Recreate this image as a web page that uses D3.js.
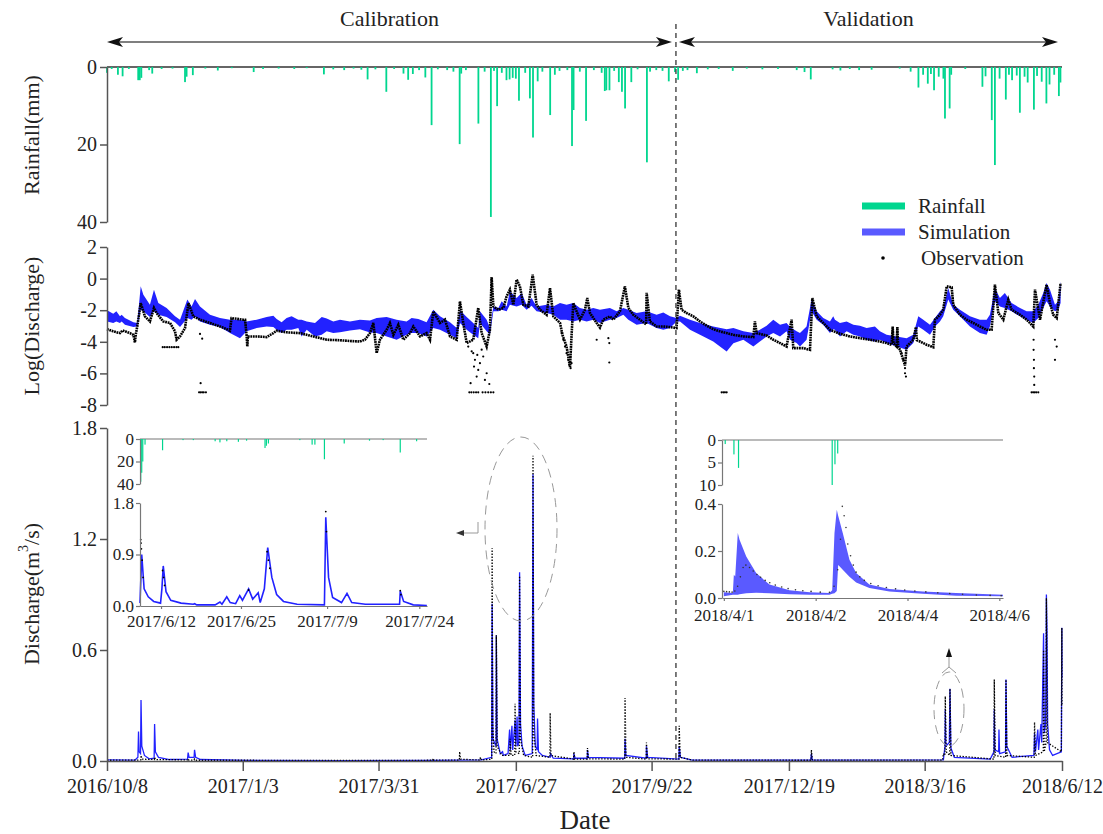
<!DOCTYPE html>
<html>
<head>
<meta charset="utf-8">
<script src="https://cdn.jsdelivr.net/npm/d3@7"></script>
<style>
body { margin: 0; background: #fff; }
svg text { font-family: "Liberation Serif", "DejaVu Serif", serif; fill: #222; }
.axis path, .axis line { stroke: #555; stroke-width: 1.5; }
.axis text { font-size: 20px; fill: #222; }
.inset .axis text { font-size: 17px; }
.inset .axis path, .inset .axis line { stroke: #777; stroke-width: 1.2; }
</style>
</head>
<body>
<svg id="chart" width="1103" height="834"></svg>
<script>
const startDate = new Date(2016, 9, 8);
const endDate = new Date(2018, 5, 12);
const splitDay = 364.6; // calibration / validation split

const xTickLabels = ["2016/10/8", "2017/1/3", "2017/3/31", "2017/6/27", "2017/9/22", "2017/12/19", "2018/3/16", "2018/6/12"];
const rainTicks = [0, 20, 40];
const logTicks = [-8, -6, -4, -2, 0, 2];
const dischargeTicks = [0, 0.6, 1.2, 1.8];

// [day since 2016/10/8, mm]
const rainfall = [
  [0,1.5],[3,0.5],[7,2],[10,2.4],[14,0.5],[20,3.4],[21,3.4],[22,2.8],[27,0.8],[29,1.7],[35,0.5],[42,0.4],
  [50,3.9],[51,2.5],[55,2.1],[63,0.4],[71,0.9],[80,0.3],[94,1.3],[100,0.5],[110,0.4],[120,0.5],[128,0.3],
  [139,1.9],[145,0.6],[152,0.8],[158,0.4],[163,0.7],[167,3.2],[172,0.6],[179,6.4],[184,0.5],[190,1.7],
  [193,3.3],[196,1.8],[200,0.8],[204,2.7],[208,15],[212,0.6],[218,0.8],[222,1.2],[226,19.9],[227,1.7],
  [230,0.8],[238,14.6],[242,1.2],[246,38.7],[248,1.0],[250,10.1],[253,1.5],[256,3.4],[258,3.2],[260,2.8],
  [262,3.0],[264,8.7],[268,1.5],[271,8.1],[273,18.2],[276,3.7],[279,1.2],[284,12.4],[287,2.0],[290,1.0],
  [295,0.8],[298,20.4],[299,11.1],[303,1.2],[307,13.9],[312,0.8],[317,1.5],[319,6.2],[320,6.0],[322,6.0],
  [325,1.0],[328,3.9],[330,6.4],[332,10.7],[336,3.9],[340,0.6],[346,24.6],[348,1.2],[352,0.8],[356,1.0],
  [360,3.7],[364,1.3],[366,3.3],[369,1.0],[372,0.8],[378,1.6],[385,0.6],[392,0.5],[401,1.0],[410,0.4],
  [420,0.6],[430,0.5],[442,0.8],[447,1.3],[451,3.2],[465,0.6],[470,0.9],[476,0.5],[482,0.8],[490,0.7],
  [508,0.4],[515,1.2],[520,5.3],[523,2.0],[526,4.3],[528,1.8],[530,6.0],[533,2.5],[536,3.0],[537,13.3],
  [540,10.7],[541,2.0],[550,0.5],[561,5.1],[563,2.4],[567,13.7],[569,25.3],[572,3.0],[576,8.4],[578,2.0],
  [580,3.4],[583,2.2],[585,11.8],[588,2.5],[590,4.0],[594,11.0],[596,2.3],[599,3.8],[602,9.4],[604,4.5],
  [607,2.0],[610,7.5],[611,4.0]
];

// [day, lower, upper] simulated log discharge band
const logSimBand = [
  [0,-2.71,-2.01],[4,-2.81,-2.22],[6,-2.71,-2.07],[8.3,-2.81,-2.39],[9.4,-2.71,-2.29],[11.5,-2.92,-2.50],
  [16.9,-3.07,-2.77],[19.4,-3.03,-2.81],[21.6,-1.97,-0.49],[23.3,-2.07,-1.02],[27.5,-2.43,-1.65],
  [30.1,-2.07,-0.70],[32.9,-2.29,-1.55],[38.2,-2.43,-1.86],[43.6,-2.77,-2.39],[46.8,-3.07,-2.60],
  [51.5,-2.50,-1.33],[54.2,-2.60,-1.76],[56.4,-2.39,-1.29],[59.6,-2.71,-1.76],[66,-2.92,-2.29],
  [72.4,-3.07,-2.50],[78.8,-3.45,-2.60],[85.2,-3.77,-2.60],[89.5,-3.34,-2.71],[95.9,-3.13,-2.60],
  [102.3,-3.03,-2.43],[106.6,-3.07,-2.35],[108.7,-3.24,-2.56],[111.9,-3.45,-2.77],[115.1,-3.24,-2.50],
  [118.3,-3.24,-2.39],[122.6,-3.13,-2.60],[124.7,-3.66,-2.60],[128,-3.24,-2.71],[133.3,-3.66,-2.81],
  [137.6,-3.56,-2.43],[140.8,-3.34,-2.52],[145,-3.45,-2.71],[149.3,-3.40,-2.60],[155.7,-3.28,-2.71],
  [162.1,-3.20,-2.60],[168.5,-3.41,-2.65],[172.8,-3.45,-2.50],[179.2,-3.66,-2.43],[185.6,-3.87,-2.60],
  [192,-3.56,-2.71],[195.2,-3.45,-2.50],[199.5,-3.45,-2.56],[204.8,-3.66,-2.77],[209.1,-3.13,-1.97],
  [213.4,-3.24,-2.39],[219.8,-3.56,-2.77],[224.1,-3.77,-3.13],[226.2,-2.81,-2.01],[230.5,-3.24,-2.43],
  [234.7,-3.56,-2.81],[237.9,-3.77,-3.13],[239,-2.81,-2.07],[243.3,-3.34,-2.60],[245.4,-3.56,-3.13],
  [247.6,-2.07,-1.76],[250.8,-2.07,-1.86],[252.9,-1.97,-1.44],[256.1,-2.07,-1.76],[258.2,-1.65,-0.80],
  [262.5,-1.76,-1.23],[265.7,-1.65,-0.91],[268.9,-1.97,-1.65],[272.1,-1.72,-1.23],[275.3,-2.07,-1.76],
  [281.7,-2.18,-1.65],[286,-2.29,-1.76],[290.3,-2.60,-1.55],[294.5,-2.60,-1.65],[298.8,-2.71,-1.55],
  [303.1,-2.60,-1.86],[307.4,-2.71,-1.97],[311.6,-2.60,-1.86],[315.9,-2.81,-1.97],[322.3,-2.60,-1.86],
  [326.6,-2.50,-2.07],[330.9,-2.29,-1.86],[334.1,-2.60,-1.97],[339.4,-2.92,-2.18],[345.8,-2.81,-2.07],
  [352.2,-3.13,-2.29],[356.5,-3.24,-2.14],[360.8,-3.13,-2.39],[365,-2.71,-2.50],[367.2,-2.71,-2.35],
  [373.6,-3.24,-2.60],[380,-3.56,-2.81],[388.5,-3.98,-3.03],[397.1,-4.62,-3.20],[401.4,-4.09,-3.13],
  [407.8,-3.87,-3.34],[414.2,-4.30,-3.45],[418.4,-3.98,-3.24],[422.7,-3.66,-2.98],[427,-3.45,-2.60],
  [431.3,-3.66,-2.92],[435.5,-3.34,-2.81],[437.7,-3.87,-3.07],[441.9,-4.08,-3.34],[444.1,-4.30,-3.45],
  [448.3,-3.87,-3.03],[451.5,-2.07,-1.33],[454.8,-2.60,-2.07],[459,-2.92,-2.50],[463.3,-3.45,-2.71],
  [465.4,-3.20,-2.39],[466.5,-3.24,-2.60],[469.7,-3.66,-2.81],[474,-3.34,-2.71],[478.3,-3.56,-2.92],
  [482.5,-3.66,-2.98],[486.8,-3.87,-3.13],[492.1,-3.98,-3.03],[495.3,-3.87,-3.34],[499.6,-4.08,-3.56],
  [506,-4.30,-3.66],[512.4,-4.51,-3.77],[516.7,-4.08,-3.56],[519.9,-3.03,-2.39],[523.1,-3.24,-2.60],
  [527.4,-3.56,-2.92],[530.6,-3.03,-2.50],[533.8,-2.71,-2.07],[535.9,-2.39,-1.86],[539.1,-1.33,-0.60],
  [542.3,-1.97,-1.65],[546.6,-2.39,-1.97],[553,-3.03,-2.39],[559.4,-3.45,-2.60],[563.7,-3.56,-2.60],
  [565.8,-3.03,-2.29],[569,-1.44,-0.60],[572.2,-1.76,-1.23],[575.4,-1.86,-0.91],[579.7,-2.07,-1.55],
  [585.1,-2.39,-1.86],[589.3,-2.60,-2.07],[593.6,-2.81,-2.07],[596.8,-2.50,-1.65],[600,-1.86,-0.91],
  [602.1,-1.44,-0.28],[604.3,-1.76,-0.70],[607.5,-2.07,-1.65],[609.6,-1.97,-1.44],[611.1,-1.55,-0.17]
];

// [day, log discharge] observed
const logObs = [
  [0,-3.20],[4,-3.34],[8.3,-3.45],[10,-3.28],[14.7,-3.45],[16.9,-3.56],[17.9,-4.04],[18.5,-3.5],[19.4,-3.03],
  [21.6,-1.55],[24.3,-2.39],[27.5,-2.71],[30.1,-1.86],[31.8,-2.18],[36,-2.71],[40.4,-2.81],[43.6,-3.34],
  [44.6,-3.87],[46.8,-3.66],[50,-3.13],[52.2,-1.55],[55.3,-2.39],[59.6,-2.60],[66,-2.81],[72.4,-3.03],
  [76.7,-3.20],[78.8,-3.3],[79.8,-2.50],[87.3,-2.60],[88.5,-2.60],[89.5,-3.66],[89.9,-4.30],[90.3,-3.66],
  [95.9,-3.66],[102.3,-3.70],[106.6,-3.45],[108.7,-3.30],[115.1,-3.40],[123.6,-3.45],[132.2,-3.66],
  [140.8,-3.87],[149.3,-3.90],[155.7,-3.95],[162.1,-3.98],[165.3,-3.87],[168.5,-3.45],[170.7,-2.81],
  [172.8,-4.72],[174.9,-3.87],[179.2,-3.24],[181.3,-2.81],[183.5,-3.56],[186.7,-2.92],[189.9,-3.87],
  [194.2,-3.45],[196.3,-3.03],[200.6,-3.66],[204.8,-3.45],[207,-3.87],[209.1,-2.07],[213.4,-2.81],
  [216.6,-2.60],[219.8,-3.66],[224.1,-3.87],[226.2,-1.44],[228.3,-2.81],[230.5,-4.08],[234.7,-3.87],
  [237.9,-1.86],[240.1,-3.45],[243.3,-4.30],[245.4,-3.24],[246.5,0.10],[247.6,-1.76],[250.8,-1.97],
  [254,-1.86],[256.1,-1.12],[258.2,-0.70],[260.4,-1.65],[262.5,-0.06],[264.6,-0.49],[266.8,-1.65],
  [270,-1.76],[272.8,0.25],[275.3,-1.65],[277.5,-1.97],[281.7,-2.29],[283.9,-0.60],[286,-2.39],
  [290.3,-2.81],[292,-3.6],[294.5,-4.3],[296.7,-5.6],[297.5,-4.0],[298.8,-1.55],[303.1,-2.60],
  [306.3,-1.97],[307.8,-1.23],[309.5,-2.18],[313.8,-2.81],[315.9,-3.1],[318,-2.60],[322.3,-2.39],
  [324.5,-2.60],[328.7,-2.07],[331.9,-0.49],[334.1,-1.86],[337.3,-2.29],[341.5,-2.60],[345.5,-2.9],
  [345.8,-0.90],[347.9,-2.71],[352.2,-3.03],[356.5,-3.03],[360.8,-3.07],[365,-3.13],[366.5,-0.70],
  [368.2,-1.97],[371.5,-2.18],[375.7,-2.39],[380,-2.71],[384.3,-2.98],[388.5,-3.20],[392.8,-3.34],
  [397.1,-3.45],[401.4,-3.56],[407.8,-3.66],[414.2,-3.70],[415.2,-2.71],[416.3,-3.45],[418.4,-3.50],
  [422.7,-3.6],[427,-3.87],[431.3,-4.08],[435.5,-4.30],[438.7,-2.60],[439.8,-4.4],[443,-4.40],
  [446.2,-4.40],[450.5,-4.51],[452,-1.23],[454.8,-2.39],[459,-2.81],[463.3,-3.24],[469.7,-3.49],
  [476.1,-3.66],[482.5,-3.77],[488.9,-3.87],[495.3,-3.98],[499.6,-4.08],[502.8,-4.19],[503.5,-3.03],
  [504,-4.1],[506,-4.30],[506.5,-3.07],[507,-4.3],[508.2,-4.51],[511.4,-5.5],[512.4,-4.30],[516.7,-3.87],
  [518.4,-3.07],[519,-3.9],[521,-3.98],[525.3,-4.19],[529.5,-4.34],[530.6,-2.60],[533.8,-2.29],
  [535.9,-1.97],[538.1,-0.49],[541.3,-0.55],[542.3,-1.65],[546.6,-2.29],[550.9,-2.60],[555.2,-2.81],
  [559.4,-3.03],[563.7,-3.24],[566.9,-3.24],[569,-0.38],[571.2,-2.18],[574.4,-2.60],[577.6,-1.33],
  [579.7,-1.97],[585.1,-2.29],[589.3,-2.60],[593.6,-3.03],[594.7,-0.70],[597.9,-2.60],[602.1,-0.38],
  [604.3,-1.55],[606.4,-2.29],[608.6,-2.50],[611.1,-0.28]
];

const logObsScatter = [
  [35.7,-4.34],[37,-4.34],[38.5,-4.34],[40,-4.34],[41.5,-4.34],[43,-4.34],[44.5,-4.34],[45.7,-4.34],
  [59.6,-3.5],[61,-3.8],[60,-6.62],[59,-7.2],[60,-7.2],[61,-7.2],[62,-7.2],[63.4,-7.2],
  [231.5,-4.3],[233,-6.62],[233.7,-4.6],[234.7,-4.72],[235.2,-5.57],[235.8,-5.14],[236.9,-6.2],
  [237.3,-4.83],[237.9,-5.78],[239,-5.35],[240.1,-4.5],[241.1,-4.93],[242.2,-6.41],[243.3,-5.99],[245,-6.67],
  [232.2,-7.2],[233.5,-7.2],[235,-7.2],[236.5,-7.2],[237.9,-7.2],[240.7,-7.2],[242.5,-7.2],[244.3,-7.2],
  [246,-7.2],[247.6,-7.2],
  [291.3,-3.45],[292.4,-3.87],[293.5,-4.3],[294.5,-4.72],[295.6,-5.14],[296.3,-5.46],[297.1,-5.67],[297.7,-5.35],
  [313.8,-3.87],[321.3,-3.77],[321.9,-4.08],[321.9,-5.31],[393.9,-7.2],[395,-7.2],[396,-7.2],[397.1,-7.2],
  [509.2,-4.72],[510.3,-5.14],[511.4,-5.67],[511.4,-5.99],[512,-6.2],
  [593.8,-3.87],[593.8,-4.51],[594,-5.14],[594,-5.67],[594.2,-6.2],[594.2,-6.73],[592.5,-7.2],[593.5,-7.2],
  [594.5,-7.2],[595.5,-7.2],[596.8,-7.2],[607.5,-3.87],[608.6,-4.3],[607.5,-5.14]
];

// [day, m3/s]
const simDischarge = [
  [0,0.006],[18,0.005],[19.8,0.02],[20.2,0.16],[20.6,0.05],[21.5,0.04],[21.8,0.33],[22.3,0.08],[24,0.03],
  [27,0.012],[30.2,0.015],[30.5,0.2],[31,0.05],[33,0.02],[40,0.008],[51.6,0.01],[52,0.045],[52.6,0.02],
  [55.8,0.02],[56.1,0.06],[56.8,0.02],[60,0.008],[90,0.003],[150,0.002],[208,0.003],[226,0.005],[240,0.006],
  [246.5,0.02],[246.8,0.85],[247.3,0.12],[249.3,0.08],[249.5,0.68],[250,0.12],[252,0.04],[253.5,0.05],
  [254,0.03],[257,0.04],[258,0.17],[258.5,0.06],[259.5,0.19],[260,0.06],[261.5,0.22],[262,0.08],
  [262.8,0.24],[263.2,0.08],[264,0.1],[264.4,1.02],[265,0.2],[266,0.08],[268,0.03],[272.5,0.04],
  [273,1.55],[273.5,0.3],[274.5,0.08],[275.7,0.06],[275.9,0.23],[276.5,0.05],[279,0.03],[284,0.02],
  [284.2,0.04],[286,0.015],[299,0.012],[299.2,0.04],[300,0.015],[307.8,0.015],[307.9,0.06],[308.5,0.02],
  [331.8,0.015],[332,0.12],[332.5,0.03],[345.6,0.015],[345.7,0.08],[346.5,0.02],[366.5,0.01],[366.7,0.08],
  [367.5,0.02],[375,0.005],[451,0.005],[451.4,0.04],[452,0.005],[536,0.006],[537,0.08],[537.2,0.28],
  [537.6,0.08],[539.8,0.1],[540.2,0.39],[540.8,0.07],[543,0.02],[566,0.01],[568.4,0.05],[568.6,0.28],
  [569,0.06],[571.4,0.05],[571.6,0.17],[572,0.04],[575.8,0.05],[576.1,0.44],[576.6,0.08],[580,0.02],
  [594,0.03],[594.4,0.15],[595,0.05],[596.5,0.17],[597,0.06],[598.5,0.2],[599,0.1],[600.2,0.69],
  [600.6,0.15],[601.5,0.2],[602,0.9],[602.4,0.7],[602.8,0.2],[604,0.06],[606,0.03],[611.6,0.05],
  [611.9,0.72],[612,0.45]
];

const obsDischarge = [
  [0,0.004],[20,0.005],[21.6,0.006],[21.8,0.03],[22.5,0.01],[30.3,0.008],[30.5,0.02],[31,0.008],
  [51.8,0.006],[52,0.012],[52.5,0.005],[55.8,0.005],[56,0.01],[56.5,0.004],[90,0.004],[150,0.003],
  [208.8,0.004],[209,0.014],[209.5,0.004],[225.8,0.005],[226,0.05],[226.5,0.01],[239,0.005],[239.3,0.02],
  [240,0.005],[246.6,0.01],[246.8,1.15],[247.2,0.2],[248,0.05],[249.3,0.04],[249.5,0.68],[250,0.08],
  [253,0.03],[258.1,0.03],[258.3,0.12],[259,0.03],[261.3,0.03],[261.5,0.31],[262,0.05],[264.2,0.04],
  [264.4,1.0],[265,0.12],[267,0.03],[272.8,0.02],[273,1.65],[273.5,0.15],[275,0.03],[283.8,0.02],
  [284,0.26],[284.5,0.03],[299,0.01],[299.2,0.05],[299.8,0.01],[307.7,0.01],[307.9,0.07],[308.5,0.012],
  [331.8,0.01],[332,0.34],[332.6,0.02],[345.5,0.01],[345.7,0.1],[346.3,0.012],[366.5,0.01],[366.7,0.19],
  [367.3,0.02],[375,0.005],[451.2,0.004],[451.4,0.06],[452,0.005],[535.5,0.005],[536,0.04],[537,0.03],
  [537.2,0.35],[537.8,0.05],[540,0.03],[540.2,0.39],[540.8,0.03],[568.4,0.01],[568.6,0.44],[569.2,0.03],
  [575.9,0.02],[576.1,0.44],[576.7,0.03],[594.2,0.02],[594.4,0.21],[595,0.03],[600,0.05],[600.2,0.6],
  [600.6,0.05],[601.8,0.1],[602,0.88],[602.6,0.1],[611.6,0.05],[611.9,0.72],[612,0.3]
];

// left inset: days since 2017/6/12
const leftInsetDomain = [-3.42, 43.25];
const leftInsetTickLabels = ["2017/6/12", "2017/6/25", "2017/7/9", "2017/7/24"];
const leftInsetRain = [
  [-3.30,38],[-3.14,30],[-2.97,20],[-2.60,5],[0.25,10],[3.58,1],[5.25,1],[8.80,2],[9.58,3],[10.69,2],
  [12.58,2.5],[13.91,1.5],[16.91,8],[17.13,6],[17.46,4],[22.57,1],[24.57,5],[25.02,5],[26.57,18],
  [29.79,4],[33.9,1.5],[36.12,1],[38.9,12],[41.56,2]
];
const leftInsetSim = [
  [-3.42,0.05],[-3.14,0.9],[-2.75,0.3],[-2.08,0.16],[-1.19,0.08],[-0.08,0.05],[0.14,0.3],[0.36,0.7],
  [0.81,0.25],[1.58,0.1],[3.25,0.05],[5.25,0.03],[5.47,0.04],[5.80,0.02],[8.80,0.02],[9.58,0.07],
  [9.91,0.03],[10.69,0.16],[11.25,0.06],[12.13,0.04],[12.80,0.18],[13.24,0.1],[14.24,0.30],[14.91,0.12],
  [15.80,0.23],[16.13,0.06],[16.80,0.3],[17.35,1.02],[18.02,0.5],[18.80,0.2],[19.91,0.08],[22.13,0.03],
  [26.57,0.02],[26.79,1.55],[27.24,0.5],[27.90,0.15],[29.35,0.06],[30.24,0.22],[31.01,0.06],[33.23,0.03],
  [38.79,0.03],[38.90,0.26],[39.45,0.08],[41.01,0.02],[43.23,0.01]
];
const leftInsetObs = [
  [-3.30,1.16],[-3.25,1.1],[-3.19,1.0],[-3.08,0.8],[-2.92,0.5],[0.25,0.62],[0.42,0.5],[0.58,0.36],
  [14.24,0.28],[17.24,0.95],[17.46,0.8],[17.69,0.66],[26.79,1.65],[26.90,1.3],[38.9,0.27],[39.01,0.2]
];

// right inset: x in tick units
const rightInsetTickLabels = ["2018/4/1", "2018/4/2", "2018/4/4", "2018/4/6"];
const rightInsetRain = [[0.015,0.9],[0.11,3.2],[0.16,6.2],[1.18,10],[1.21,5.4],[1.24,3]];
const rightInsetSimBand = [
  [0,0.007,0.024],[0.098,0.014,0.021],[0.109,0.014,0.099],[0.124,0.014,0.092],[0.152,0.014,0.277],
  [0.171,0.016,0.248],[0.244,0.02,0.177],[0.352,0.022,0.106],[0.497,0.02,0.057],[0.715,0.016,0.033],
  [0.933,0.014,0.024],[1.15,0.014,0.021],[1.18,0.018,0.033],[1.205,0.02,0.277],[1.23,0.03,0.376],
  [1.245,0.14,0.35],[1.259,0.135,0.33],[1.295,0.12,0.277],[1.368,0.09,0.163],[1.441,0.066,0.106],
  [1.585,0.043,0.057],[1.803,0.028,0.038],[2.166,0.018,0.028],[2.529,0.01,0.021],[3.04,0.007,0.014]
];
const rightInsetObs = [
  [0,0.028],[0.03,0.027],[0.06,0.026],[0.09,0.025],[0.12,0.03],[0.15,0.05],[0.18,0.09],[0.21,0.13],
  [0.24,0.14],[0.28,0.13],[0.32,0.115],[0.36,0.1],[0.4,0.088],[0.45,0.075],[0.5,0.065],[0.56,0.055],
  [0.63,0.047],[0.7,0.04],[0.78,0.035],[0.86,0.031],[0.95,0.028],[1.05,0.025],[1.15,0.024],[1.2,0.05],
  [1.24,0.12],[1.27,0.25],[1.29,0.39],[1.31,0.35],[1.33,0.3],[1.35,0.23],[1.38,0.18],[1.41,0.14],
  [1.44,0.11],[1.48,0.09],[1.53,0.075],[1.6,0.062],[1.68,0.052],[1.77,0.045],[1.87,0.039],[1.97,0.034],
  [2.08,0.03],[2.2,0.026],[2.33,0.022],[2.46,0.019],[2.6,0.016],[2.75,0.013],[2.9,0.011],[3.02,0.01]
];

const legendItems = ["Rainfall", "Simulation", "Observation"];

const rainColor = "#00d68f";
const simColor = "#2222ff";
const simLight = "#5a5aff";

const svg = d3.select("#chart");
const parseTick = d3.timeParse("%Y/%m/%d");
const dayToDate = (base, d) => new Date(base.getTime() + d * 864e5);

const x = d3.scaleTime().domain([startDate, endDate]).range([107, 1062]);
const xd = d => x(dayToDate(startDate, d));
const yRain = d3.scaleLinear().domain([0, 40]).range([67, 222]);
const yLog = d3.scaleLinear().domain([-8, 2]).range([405, 247]);
const yQ = d3.scaleLinear().domain([0, 1.8]).range([761, 428]);

// Rainfall panel
svg.append("line").attr("x1", 107).attr("x2", 1062).attr("y1", 67).attr("y2", 67)
  .attr("stroke", "#666").attr("stroke-width", 2);
svg.append("g").selectAll("rect").data(rainfall).enter().append("rect")
  .attr("x", d => xd(d[0]) - 0.9).attr("width", 1.8)
  .attr("y", yRain(0)).attr("height", d => yRain(d[1]) - yRain(0))
  .attr("fill", rainColor);
svg.append("g").attr("class", "axis").attr("transform", "translate(107,0)")
  .call(d3.axisLeft(yRain).tickValues(rainTicks).tickSize(7).tickSizeOuter(0));

// Log discharge panel
svg.append("path").datum(logSimBand)
  .attr("d", d3.area().x(d => xd(d[0])).y0(d => yLog(d[1])).y1(d => yLog(d[2])))
  .attr("fill", simColor);
svg.append("path").datum(logObs)
  .attr("d", d3.line().x(d => xd(d[0])).y(d => yLog(d[1])))
  .attr("fill", "none").attr("stroke", "#000").attr("stroke-width", 2.6)
  .attr("stroke-dasharray", "1.8 0.7");
svg.append("g").selectAll("circle").data(logObsScatter).enter().append("circle")
  .attr("cx", d => xd(d[0])).attr("cy", d => yLog(d[1])).attr("r", 1.1).attr("fill", "#000");
svg.append("g").attr("class", "axis").attr("transform", "translate(107,0)")
  .call(d3.axisLeft(yLog).tickValues(logTicks).tickFormat(d => String(d)).tickSize(7).tickSizeOuter(0));

// Discharge panel
svg.append("path").datum(simDischarge)
  .attr("d", d3.line().x(d => xd(d[0])).y(d => yQ(d[1])))
  .attr("fill", "none").attr("stroke", simColor).attr("stroke-width", 1.3);
svg.append("path").datum(obsDischarge)
  .attr("d", d3.line().x(d => xd(d[0])).y(d => yQ(d[1])))
  .attr("fill", "none").attr("stroke", "#000").attr("stroke-width", 1.3)
  .attr("stroke-dasharray", "1.4 1.6");
svg.append("g").attr("class", "axis").attr("transform", "translate(107,0)")
  .call(d3.axisLeft(yQ).tickValues(dischargeTicks).tickFormat(d3.format(".1f")).tickSize(7).tickSizeOuter(0));
svg.append("g").attr("class", "axis").attr("transform", "translate(0,761)")
  .call(d3.axisBottom(x).tickValues(xTickLabels.map(parseTick))
    .tickFormat(d3.timeFormat("%Y/%-m/%-d")).tickSize(10).tickSizeOuter(0).tickPadding(8));

// Split line and period arrows
const splitX = xd(splitDay);
svg.append("line").attr("x1", splitX).attr("x2", splitX).attr("y1", 24).attr("y2", 761)
  .attr("stroke", "#444").attr("stroke-width", 1.4).attr("stroke-dasharray", "5 4");

function arrowHead(g, tipX, y, dir) {
  g.append("path")
    .attr("d", `M${tipX},${y} L${tipX + dir * 16},${y - 5} L${tipX + dir * 12},${y} L${tipX + dir * 16},${y + 5} Z`)
    .attr("fill", "#111");
}
const arrows = svg.append("g");
[[107, splitX - 4, "Calibration"], [splitX + 3, 1058, "Validation"]].forEach(p => {
  arrows.append("line").attr("x1", p[0] + 4).attr("x2", p[1] - 4).attr("y1", 42).attr("y2", 42)
    .attr("stroke", "#555").attr("stroke-width", 1.4);
  arrowHead(arrows, p[0], 42, 1);
  arrowHead(arrows, p[1], 42, -1);
  arrows.append("text").attr("x", (p[0] + p[1]) / 2).attr("y", 26).attr("text-anchor", "middle")
    .attr("font-size", 22).text(p[2]);
});

// Axis titles
const titles = [
  {text: "Rainfall(mm)", y: 135},
  {text: "Log(Discharge)", y: 326},
  {text: "Discharge(m", y: 594, sup: true}
];
titles.forEach(t => {
  const tx = svg.append("text").attr("transform", `translate(31,${t.y}) rotate(-90)`)
    .attr("text-anchor", "middle").attr("dominant-baseline", "central").attr("font-size", 22);
  tx.append("tspan").text(t.text);
  if (t.sup) {
    tx.append("tspan").attr("font-size", 14).attr("dy", -8).text("3");
    tx.append("tspan").attr("dy", 8).text("/s)");
  }
});
svg.append("text").attr("x", 585).attr("y", 829).attr("text-anchor", "middle")
  .attr("font-size", 27).text("Date");

// Legend
const legend = svg.append("g");
legendItems.forEach((name, i) => {
  const ly = 206 + i * 26;
  if (i < 2) {
    legend.append("line").attr("x1", 862).attr("x2", 905).attr("y1", ly).attr("y2", ly)
      .attr("stroke", i === 0 ? rainColor : simLight).attr("stroke-width", 7);
  } else {
    legend.append("circle").attr("cx", 883).attr("cy", ly).attr("r", 1.8).attr("fill", "#000");
  }
  legend.append("text").attr("x", i < 2 ? 918 : 921).attr("y", ly).attr("dominant-baseline", "central")
    .attr("font-size", 21).text(name);
});

// Left inset
const leftStart = parseTick("2017/6/12");
const li = svg.append("g").attr("class", "inset");
const xL = d3.scaleTime().domain(leftInsetDomain.map(d => dayToDate(leftStart, d))).range([140, 427]);
const xLd = d => xL(dayToDate(leftStart, d));
const yLRain = d3.scaleLinear().domain([0, 40]).range([439, 484]);
const yLQ = d3.scaleLinear().domain([0, 1.8]).range([606, 503]);
li.append("line").attr("x1", 140).attr("x2", 427).attr("y1", 439).attr("y2", 439)
  .attr("stroke", "#777").attr("stroke-width", 1.2);
li.append("g").selectAll("rect").data(leftInsetRain).enter().append("rect")
  .attr("x", d => xLd(d[0]) - 0.6).attr("width", 1.2)
  .attr("y", yLRain(0)).attr("height", d => yLRain(d[1]) - yLRain(0)).attr("fill", rainColor);
li.append("g").attr("class", "axis").attr("transform", "translate(140,0)")
  .call(d3.axisLeft(yLRain).tickValues([0, 20, 40]).tickSize(4).tickSizeOuter(0).tickPadding(2));
li.append("path").datum(leftInsetSim)
  .attr("d", d3.line().x(d => xLd(d[0])).y(d => yLQ(d[1])))
  .attr("fill", "none").attr("stroke", simColor).attr("stroke-width", 1.6);
li.append("g").selectAll("circle").data(leftInsetObs).enter().append("circle")
  .attr("cx", d => xLd(d[0])).attr("cy", d => yLQ(d[1])).attr("r", 0.9).attr("fill", "#000");
li.append("g").attr("class", "axis").attr("transform", "translate(140,0)")
  .call(d3.axisLeft(yLQ).tickValues([0, 0.9, 1.8]).tickFormat(d3.format(".1f")).tickSize(4).tickSizeOuter(0).tickPadding(2));
li.append("g").attr("class", "axis").attr("transform", "translate(0,606)")
  .call(d3.axisBottom(xL).tickValues(leftInsetTickLabels.map(parseTick))
    .tickFormat(d3.timeFormat("%Y/%-m/%-d")).tickSize(3).tickSizeOuter(0).tickPadding(6));

// Right inset
const ri = svg.append("g").attr("class", "inset");
const xR = d3.scaleLinear().domain([-0.02, 3.04]).range([722, 1003]);
const yRRain = d3.scaleLinear().domain([0, 10]).range([440, 485]);
const yRQ = d3.scaleLinear().domain([0, 0.4]).range([598, 504]);
ri.append("line").attr("x1", 722).attr("x2", 1003).attr("y1", 440).attr("y2", 440)
  .attr("stroke", "#777").attr("stroke-width", 1.2);
ri.append("g").selectAll("rect").data(rightInsetRain).enter().append("rect")
  .attr("x", d => xR(d[0]) - 0.6).attr("width", 1.2)
  .attr("y", yRRain(0)).attr("height", d => yRRain(d[1]) - yRRain(0)).attr("fill", rainColor);
ri.append("g").attr("class", "axis").attr("transform", "translate(722,0)")
  .call(d3.axisLeft(yRRain).tickValues([0, 5, 10]).tickSize(4).tickSizeOuter(0).tickPadding(2));
ri.append("path").datum(rightInsetSimBand)
  .attr("d", d3.area().x(d => xR(d[0])).y0(d => yRQ(d[1])).y1(d => yRQ(d[2])))
  .attr("fill", simLight);
ri.append("g").selectAll("circle").data(rightInsetObs).enter().append("circle")
  .attr("cx", d => xR(d[0])).attr("cy", d => yRQ(d[1])).attr("r", 0.8).attr("fill", "#333");
ri.append("g").attr("class", "axis").attr("transform", "translate(722,0)")
  .call(d3.axisLeft(yRQ).tickValues([0, 0.2, 0.4]).tickFormat(d3.format(".1f")).tickSize(4).tickSizeOuter(0).tickPadding(2));
ri.append("g").attr("class", "axis").attr("transform", "translate(0,598)")
  .call(d3.axisBottom(xR).tickValues([0, 1, 2, 3]).tickFormat(i => rightInsetTickLabels[i])
    .tickSize(3).tickSizeOuter(0).tickPadding(8));

// Callout ellipses
const callouts = svg.append("g").attr("fill", "none").attr("stroke", "#999").attr("stroke-width", 1);
callouts.append("ellipse").attr("cx", 521).attr("cy", 529).attr("rx", 36).attr("ry", 92)
  .attr("stroke-dasharray", "9 6");
callouts.append("ellipse").attr("cx", 949).attr("cy", 709).attr("rx", 15).attr("ry", 37)
  .attr("stroke-dasharray", "9 6");
callouts.append("path").attr("d", "M478,522 L478,533 L462,533");
callouts.append("path").attr("d", "M949,667 L949,656 M949,667 L942,673 M949,667 L956,673");
svg.append("path").attr("d", "M456,533 L464,530 L464,536 Z").attr("fill", "#333");
svg.append("path").attr("d", "M949,648 L946,657 L952,657 Z").attr("fill", "#111");
</script>
</body>
</html>
